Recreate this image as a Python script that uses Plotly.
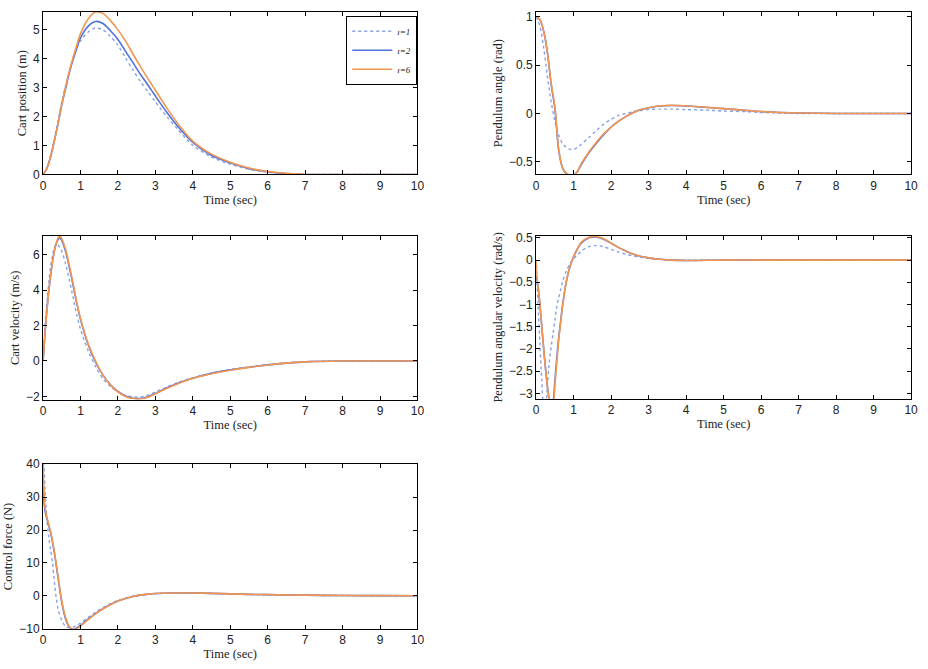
import plotly.graph_objects as go

# ---------------- data ----------------
t_pos = [0, 0.1, 0.2, 0.3, 0.4, 0.5, 0.6, 0.7, 0.8, 0.9, 1.0, 1.2, 1.4, 1.6, 1.8, 2.0, 2.2, 2.4,
         2.6, 2.8, 3.0, 3.3, 3.6, 4.0, 4.5, 5.0, 5.5, 6.0, 6.5, 7.0, 8.0, 9.0, 10.0]
pos_i1 = [0, 0.22, 0.65, 1.2, 1.85, 2.5, 3.05, 3.55, 4.0, 4.35, 4.6, 4.9, 5.05, 4.98, 4.75, 4.45, 4.02, 3.6,
          3.2, 2.85, 2.5, 2.0, 1.55, 1.0, 0.6, 0.35, 0.18, 0.08, 0.03, 0.0, 0.0, 0.0, 0.0]
pos_i2 = [0, 0.2, 0.6, 1.15, 1.75, 2.4, 2.95, 3.5, 3.95, 4.35, 4.7, 5.1, 5.27, 5.2, 4.95, 4.65, 4.25, 3.85,
          3.45, 3.08, 2.7, 2.15, 1.65, 1.1, 0.65, 0.4, 0.2, 0.09, 0.03, 0.0, 0.0, 0.0, 0.0]
pos_i6 = [0, 0.2, 0.6, 1.15, 1.75, 2.42, 3.0, 3.55, 4.02, 4.45, 4.85, 5.35, 5.6, 5.55, 5.3, 4.98, 4.6, 4.15,
          3.72, 3.3, 2.9, 2.3, 1.75, 1.15, 0.7, 0.42, 0.22, 0.1, 0.04, 0.0, 0.0, 0.0, 0.0]

t_ang = [0, 0.1, 0.2, 0.3, 0.4, 0.5, 0.6, 0.7, 0.8, 0.9, 1.0, 1.1, 1.2, 1.4, 1.6, 1.8, 2.0, 2.2, 2.4,
         2.6, 2.8, 3.0, 3.3, 3.6, 4.0, 4.5, 5.0, 5.5, 6.0, 6.5, 7.0, 8.0, 9.0, 10.0]
ang_i1 = [1.0, 0.9, 0.68, 0.38, 0.12, -0.08, -0.22, -0.31, -0.35, -0.37, -0.37, -0.35, -0.32, -0.25, -0.18,
          -0.11, -0.06, -0.02, 0.0, 0.02, 0.03, 0.04, 0.045, 0.045, 0.04, 0.035, 0.025, 0.02, 0.01, 0.005,
          0.0, 0.0, 0.0, 0.0]
ang_i2 = [1.0, 0.97, 0.85, 0.63, 0.3, 0.05, -0.38, -0.56, -0.62, -0.64, -0.64, -0.6, -0.53, -0.41, -0.31,
          -0.22, -0.14, -0.08, -0.03, 0.01, 0.04, 0.06, 0.078, 0.083, 0.078, 0.064, 0.05, 0.035, 0.02,
          0.01, 0.005, 0.0, 0.0, 0.0]
ang_i6 = [1.0, 0.97, 0.85, 0.63, 0.31, 0.06, -0.37, -0.56, -0.62, -0.64, -0.64, -0.6, -0.52, -0.4, -0.3,
          -0.21, -0.14, -0.08, -0.03, 0.01, 0.04, 0.06, 0.08, 0.085, 0.08, 0.065, 0.05, 0.035, 0.02,
          0.01, 0.005, 0.0, 0.0, 0.0]

t_vel = [0, 0.05, 0.1, 0.2, 0.3, 0.35, 0.4, 0.45, 0.5, 0.6, 0.7, 0.8, 0.9, 1.0, 1.2, 1.4, 1.6, 1.8, 2.0,
         2.2, 2.4, 2.6, 2.8, 3.0, 3.3, 3.6, 4.0, 4.5, 5.0, 5.5, 6.0, 6.5, 7.0, 8.0, 9.0, 10.0]
vel_i1 = [0, 1.8, 3.2, 5.3, 6.4, 6.6, 6.55, 6.4, 6.2, 5.5, 4.6, 3.6, 2.6, 1.8, 0.6, -0.3, -1.0, -1.45,
          -1.75, -1.95, -2.03, -2.03, -1.93, -1.75, -1.48, -1.22, -0.94, -0.68, -0.48, -0.33, -0.21,
          -0.11, -0.04, 0.0, 0.0, 0.0]
vel_i2 = [0, 1.5, 2.8, 4.8, 6.2, 6.6, 6.85, 6.95, 6.8, 6.2, 5.3, 4.3, 3.25, 2.35, 0.95, -0.05, -0.8, -1.35,
          -1.72, -1.97, -2.1, -2.12, -2.02, -1.83, -1.53, -1.26, -0.97, -0.7, -0.5, -0.35, -0.22,
          -0.12, -0.05, 0.0, 0.0, 0.0]
vel_i6 = [0, 1.5, 2.8, 4.8, 6.2, 6.65, 6.95, 7.05, 6.9, 6.3, 5.4, 4.4, 3.3, 2.4, 1.0, 0.0, -0.8, -1.35,
          -1.75, -2.0, -2.12, -2.15, -2.05, -1.85, -1.55, -1.28, -0.98, -0.72, -0.52, -0.36, -0.23,
          -0.12, -0.05, 0.0, 0.0, 0.0]

t_avel = [0, 0.02, 0.05, 0.1, 0.15, 0.2, 0.25, 0.3, 0.35, 0.4, 0.45, 0.5, 0.55, 0.6, 0.65, 0.7, 0.8, 0.9,
          1.0, 1.1, 1.2, 1.4, 1.6, 1.8, 2.0, 2.2, 2.4, 2.6, 2.8, 3.0, 3.3, 3.6, 4.0, 5.0, 6.0, 7.0,
          8.0, 9.0, 10.0]
avel_i1 = [-0.1, -0.5, -1.0, -1.9, -2.7, -3.2, -3.2, -2.8, -2.3, -1.95, -1.65, -1.35, -1.05, -0.85, -0.68,
           -0.5, -0.25, -0.08, 0.03, 0.12, 0.2, 0.3, 0.33, 0.3, 0.24, 0.18, 0.13, 0.09, 0.06, 0.04, 0.02,
           0.0, 0.0, 0.0, 0.0, 0.0, 0.0, 0.0, 0.0]
avel_i2 = [-0.35, -0.45, -0.6, -1.0, -1.5, -2.0, -2.45, -2.85, -3.15, -3.3, -3.2, -2.7, -2.2, -1.75, -1.4,
           -1.05, -0.5, -0.15, 0.08, 0.25, 0.38, 0.5, 0.52, 0.47, 0.38, 0.28, 0.2, 0.13, 0.08, 0.05, 0.02,
           0.0, -0.01, 0.0, 0.0, 0.0, 0.0, 0.0, 0.0]
avel_i6 = [0.0, -0.4, -0.6, -1.0, -1.5, -2.0, -2.45, -2.85, -3.15, -3.3, -3.25, -2.8, -2.3, -1.8, -1.42,
           -1.05, -0.5, -0.15, 0.08, 0.26, 0.4, 0.51, 0.53, 0.48, 0.38, 0.28, 0.2, 0.13, 0.08, 0.05, 0.02,
           0.0, -0.01, 0.0, 0.0, 0.0, 0.0, 0.0, 0.0]

t_frc = [0, 0.02, 0.05, 0.1, 0.15, 0.2, 0.25, 0.3, 0.35, 0.4, 0.5, 0.6, 0.7, 0.8, 0.9, 1.0, 1.2, 1.4, 1.6,
         1.8, 2.0, 2.2, 2.4, 2.6, 2.8, 3.0, 3.5, 4.0, 4.5, 5.0, 5.5, 6.0, 7.0, 8.0, 9.0, 10.0]
frc_i1 = [46, 41, 33, 24, 18, 14, 10, 4.5, -0.5, -4, -7.5, -9.3, -9.7, -9.5, -9.0, -8.3, -6.6, -5.0, -3.6,
          -2.4, -1.4, -0.7, -0.1, 0.3, 0.5, 0.65, 0.8, 0.8, 0.7, 0.55, 0.4, 0.3, 0.15, 0.08, 0.03, 0.0]
frc_i2 = [33, 29, 26, 23.5, 21.5, 19.2, 16.5, 13.2, 9.5, 5.5, -2, -7, -9.5, -10.2, -9.8, -9.0, -7.1, -5.4,
          -3.9, -2.6, -1.6, -0.8, -0.2, 0.2, 0.5, 0.7, 0.85, 0.85, 0.75, 0.6, 0.45, 0.35, 0.2, 0.1, 0.05, 0.0]
frc_i6 = [42, 33, 27, 24, 21.8, 19.5, 16.8, 13.5, 9.8, 6, -1.5, -6.5, -9.3, -10.2, -10.0, -9.2, -7.3, -5.5,
          -4.0, -2.7, -1.6, -0.8, -0.2, 0.2, 0.5, 0.7, 0.85, 0.85, 0.75, 0.6, 0.45, 0.35, 0.2, 0.1, 0.05, 0.0]

series_names = ["<i>\u0131=1</i>", "<i>\u0131=2</i>", "<i>\u0131=6</i>"]
x_ticks = [0, 1, 2, 3, 4, 5, 6, 7, 8, 9, 10]

panels = [
    dict(t=t_pos, ys=[pos_i1, pos_i2, pos_i6], title="Cart position (m)",
         yr=[0, 5.6], yt=[0, 1, 2, 3, 4, 5]),
    dict(t=t_ang, ys=[ang_i1, ang_i2, ang_i6], title="Pendulum angle (rad)",
         yr=[-0.63, 1.05], yt=[-0.5, 0, 0.5, 1]),
    dict(t=t_vel, ys=[vel_i1, vel_i2, vel_i6], title="Cart velocity (m/s)",
         yr=[-2.18, 7.05], yt=[-2, 0, 2, 4, 6]),
    dict(t=t_avel, ys=[avel_i1, avel_i2, avel_i6], title="Pendulum angular velocity (rad/s)",
         yr=[-3.12, 0.54], yt=[-3, -2.5, -2, -1.5, -1, -0.5, 0, 0.5]),
    dict(t=t_frc, ys=[frc_i1, frc_i2, frc_i6], title="Control force (N)",
         yr=[-10, 40], yt=[-10, 0, 10, 20, 30, 40]),
]

# ---------------- layout geometry ----------------
W, H = 928, 669
boxes = [  # left, right, top, bottom in pixels
    (40.5, 419, 5, 171),
    (539, 918, 5, 171),
    (40.5, 419, 234, 401),
    (539, 918, 234, 400),
    (40.5, 419, 467, 635),
]

colors = ["#86a2e6", "#4f72dc", "#f39650"]
dashes = ["dot", "solid", "solid"]
widths = [1.4, 1.6, 1.6]

fig = go.Figure()
layout = dict(width=W, height=H, margin=dict(l=0, r=0, t=0, b=0),
              paper_bgcolor="white", plot_bgcolor="white", showlegend=True)

tick_font = dict(family="Liberation Sans, Arial, sans-serif", size=12, color="#222")
title_font = dict(family="Liberation Serif, Times New Roman, serif", size=12.5, color="#222")

for k, (p, b) in enumerate(zip(panels, boxes)):
    n = "" if k == 0 else str(k + 1)
    xa, ya = "x" + n, "y" + n
    l, r, tp, bt = b
    layout["xaxis" + n] = dict(
        domain=[l / W, r / W], anchor=ya, range=[0, 10], tickvals=x_ticks,
        showline=True, linecolor="black", linewidth=1, mirror="ticks",
        ticks="inside", ticklen=4, tickcolor="black", showgrid=False, zeroline=False,
        tickfont=tick_font, title=dict(text="Time (sec)", font=title_font, standoff=0))
    layout["yaxis" + n] = dict(
        domain=[1 - bt / H, 1 - tp / H], anchor=xa, range=p["yr"], tickvals=p["yt"],
        showline=True, linecolor="black", linewidth=1, mirror="ticks",
        ticks="inside", ticklen=4, tickcolor="black", showgrid=False, zeroline=False,
        tickfont=tick_font, title=dict(text=p["title"], font=title_font, standoff=3))
    for j in range(3):
        fig.add_trace(go.Scatter(
            x=p["t"], y=p["ys"][j], xaxis=xa, yaxis=ya, mode="lines",
            name=series_names[j], showlegend=(k == 0), legendgroup=series_names[j],
            line=dict(color=colors[j], dash=dashes[j], width=widths[j], shape="spline",
                      smoothing=0.8)))

layout["legend"] = dict(
    x=347 / W, y=1 - 9 / H, xanchor="left", yanchor="top",
    bgcolor="white", bordercolor="black", borderwidth=1,
    font=dict(family="Liberation Serif, Times New Roman, serif", size=9, color="#222"),
    itemwidth=40, tracegroupgap=0)

fig.update_layout(**layout)
fig.write_html("out.html", config={"displayModeBar": False},
               post_script="document.body.style.margin='0';document.body.style.overflow='hidden';")
